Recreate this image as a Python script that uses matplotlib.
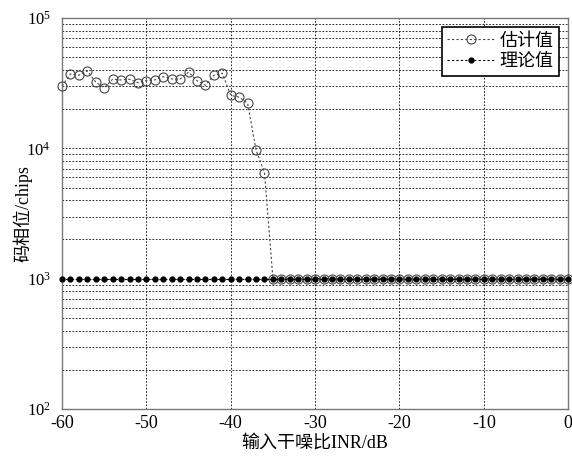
import numpy as np
import matplotlib
matplotlib.use("Agg")
import matplotlib.pyplot as plt
from matplotlib.ticker import LogLocator, FixedLocator

plt.rcParams["font.family"] = ["Liberation Serif", "Noto Sans CJK SC", "DejaVu Sans"]
plt.rcParams["mathtext.fontset"] = "custom"
plt.rcParams["mathtext.rm"] = "Liberation Serif"
plt.rcParams["axes.unicode_minus"] = False

# INR 输入干噪比 (dB)
inr = list(range(-60, 1))
# 估计值 (chips)
est_head = [30100, 37200, 36400, 39300, 32200, 29200, 33900, 33500, 33900, 31900,
            33100, 33500, 35500, 34100, 34100, 38400, 33100, 30500, 36400, 37700,
            25500, 24700, 22200, 9720, 6510]
est = est_head + [1000] * (len(inr) - len(est_head))
# 理论值 (chips)
theory = [1000] * len(inr)

fig = plt.figure(figsize=(5.72, 4.66), dpi=100)
ax = fig.add_axes([0.1084, 0.1223, 0.885, 0.839])

ax.semilogy(inr, est, linestyle=(0, (2, 2)), color="#444444", linewidth=0.8,
            marker="o", markersize=6.5, markerfacecolor="none",
            markeredgecolor="#444444", markeredgewidth=0.8, label="估计值",
            clip_on=False, zorder=3)
ax.semilogy(inr, theory, linestyle=(0, (2, 2)), color="black", linewidth=0.8,
            marker="o", markersize=3.5, markerfacecolor="black",
            markeredgecolor="black", label="理论值", clip_on=False, zorder=4)

ax.set_xlim(-60, 0)
ax.set_ylim(1e2, 1e5)
ax.xaxis.set_major_locator(FixedLocator([-60, -50, -40, -30, -20, -10, 0]))
ax.yaxis.set_major_locator(LogLocator(base=10, numticks=10))
ax.yaxis.set_minor_locator(LogLocator(base=10, subs=np.arange(2, 10), numticks=10))
ax.yaxis.set_minor_formatter(plt.NullFormatter())

ax.grid(True, which="major", axis="both", linestyle=(0, (2, 2)), color="black", linewidth=0.6)
ax.grid(True, which="minor", axis="y", linestyle=(0, (2, 2)), color="black", linewidth=0.6)
ax.set_axisbelow(True)

for s in ax.spines.values():
    s.set_color("#777777")
    s.set_linewidth(1.0)
ax.tick_params(which="both", direction="in", length=0, labelsize=13)
ax.tick_params(axis="x", pad=4)
ax.tick_params(axis="y", pad=8, labelsize=12)

ax.set_xlabel("输入干噪比INR/dB", fontsize=13, labelpad=2)
ax.set_ylabel("码相位/chips", fontsize=13)
ax.yaxis.set_label_coords(-0.059, 0.5)

leg = ax.legend(loc="upper right", fontsize=13, frameon=True, fancybox=False,
                borderaxespad=0.5, handlelength=2.6, borderpad=0.3,
                labelspacing=0.2, handletextpad=0.3)
leg.get_frame().set_edgecolor("black")
leg.get_frame().set_linewidth(1.2)
leg.get_frame().set_alpha(1)
leg.set_zorder(10)

fig.savefig("out.png", dpi=100)
